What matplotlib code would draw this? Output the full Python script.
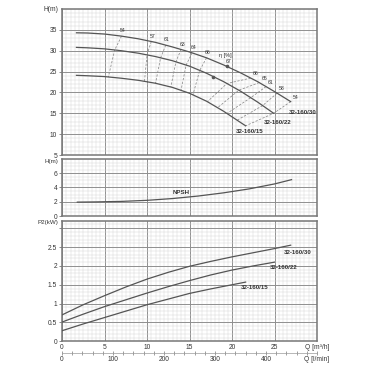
import numpy as np
import matplotlib.pyplot as plt
from matplotlib.ticker import MultipleLocator

plt.rcParams['font.family'] = ['Liberation Sans', 'DejaVu Sans']

# H-Q curves, Q in m3/h, H in m
q_30 = [1.7, 3, 5, 7, 9, 11, 13, 15, 17, 19, 21, 23, 25, 26.9]
h_30 = [34.3, 34.25, 34.0, 33.5, 32.85, 32.0, 30.9, 29.7, 28.3, 26.6, 24.7, 22.6, 20.2, 17.8]
q_22 = [1.7, 3, 5, 7, 9, 11, 13, 15, 17, 19, 21, 23, 24.9]
h_22 = [30.8, 30.7, 30.45, 30.0, 29.4, 28.6, 27.6, 26.3, 24.6, 22.6, 20.3, 17.7, 15.0]
q_15 = [1.7, 3, 5, 7, 9, 11, 13, 15, 17, 19, 21, 21.6]
h_15 = [24.1, 24.0, 23.8, 23.4, 22.9, 22.2, 21.2, 19.8, 17.9, 15.5, 12.8, 12.0]

# iso-efficiency lines: Q where each level meets the 30 / 22 / 15 curves
eta_levels = [54, 57, 61, 63, 64, 66, 66, 65, 61, 58, 54]
eta_q30 = [7.0, 10.5, 12.2, 14.0, 15.3, 17.0, 22.2, 23.2, 24.0, 25.3, 26.9]
eta_q22 = [6.2, 10.0, 11.6, 13.4, 14.6, 16.2, 19.4, 20.8, 22.2, 23.6, 24.9]
eta_q15 = [5.45, 9.7, 11.0, 12.8, 14.0, 15.4, 17.1, 18.3, 19.4, 20.6, 21.6]
eta_best_q = [19.4, 17.8]  # 67 % points on the 30 and 22 curves

# NPSH
q_npsh = [1.8, 4, 7, 10, 13, 16, 19, 22, 25, 27]
h_npsh = [1.95, 1.98, 2.05, 2.2, 2.45, 2.8, 3.25, 3.8, 4.5, 5.1]

# P2 curves, kW
q_p30 = [0, 2.5, 5, 7.5, 10, 12.5, 15, 17.5, 20, 22.5, 25, 26.9]
p_30 = [0.70, 0.97, 1.21, 1.44, 1.65, 1.83, 1.99, 2.12, 2.24, 2.35, 2.46, 2.55]
q_p22 = [0, 2.5, 5, 7.5, 10, 12.5, 15, 17.5, 20, 22.5, 25]
p_22 = [0.51, 0.72, 0.92, 1.10, 1.28, 1.45, 1.61, 1.76, 1.89, 2.00, 2.10]
q_p15 = [0, 2.5, 5, 7.5, 10, 12.5, 15, 17.5, 20, 21.6]
p_15 = [0.28, 0.46, 0.63, 0.80, 0.97, 1.12, 1.27, 1.39, 1.50, 1.57]

names = ['32-160/30', '32-160/22', '32-160/15']

curve_c = '#555555'
txt_c = '#333333'
fs = 4.8

fig = plt.figure(figsize=(3.68, 3.68), dpi=100)
ax1 = fig.add_axes([0.1685, 0.5788, 0.693, 0.3967])
ax2 = fig.add_axes([0.1685, 0.413, 0.693, 0.155])
ax3 = fig.add_axes([0.1685, 0.0726, 0.693, 0.3277])


def style(ax, ylim, yminor, yticks, ylabels):
    ax.set_xlim(0, 30)
    ax.set_ylim(*ylim)
    ax.xaxis.set_major_locator(MultipleLocator(5))
    ax.xaxis.set_minor_locator(MultipleLocator(0.5))
    ax.yaxis.set_minor_locator(MultipleLocator(yminor))
    ax.set_yticks(yticks, ylabels)
    ax.grid(which='major', color='#8f8f8f', lw=0.7)
    ax.grid(which='minor', color='#d6d6d6', lw=0.35)
    ax.set_axisbelow(True)
    for s in ax.spines.values():
        s.set_color('#777777')
        s.set_linewidth(1.1)
    ax.tick_params(axis='y', which='major', length=2, width=0.6, color='#777777',
                   labelsize=fs, labelcolor=txt_c, pad=1.5)
    ax.tick_params(which='minor', length=0)
    ax.tick_params(axis='x', which='major', length=0, labelbottom=False)


style(ax1, (5, 40), 1, [5, 10, 15, 20, 25, 30, 35], ['5', '10', '15', '20', '25', '30', '35'])
style(ax2, (0, 8), 0.5, [0, 2, 4, 6], ['0', '2', '4', '6'])
style(ax3, (0, 3.2), 0.1, [0, 0.5, 1, 1.5, 2, 2.5, 3], ['0', '0.5', '1', '1.5', '2', '2.5', ''])

# top panel: H-Q
for q, h in [(q_30, h_30), (q_22, h_22), (q_15, h_15)]:
    ax1.plot(q, h, color=curve_c, lw=0.9, zorder=3)

for lvl, a, b, c in zip(eta_levels, eta_q30, eta_q22, eta_q15):
    qs = [a, b, c]
    hs = [np.interp(a, q_30, h_30), np.interp(b, q_22, h_22), np.interp(c, q_15, h_15)]
    ax1.plot(qs, hs, color='#8a8a8a', lw=0.55, ls=(0, (3, 2)), zorder=2)
    right = a > 20
    ax1.annotate(str(lvl), (a, hs[0]), xytext=(1.5, 1.5) if right else (1, 2),
                 textcoords='offset points', ha='left' if right else 'center',
                 va='bottom', fontsize=3.7, color=txt_c)

hb = [np.interp(eta_best_q[0], q_30, h_30), np.interp(eta_best_q[1], q_22, h_22)]
ax1.plot(eta_best_q, hb, 'o', ms=1.6, color=curve_c, zorder=4)
ax1.annotate('67', (eta_best_q[0], hb[0]), xytext=(1, 2), textcoords='offset points',
             ha='center', va='bottom', fontsize=3.7, color=txt_c)
ax1.text(19.25, 28.8, 'η [%]', fontsize=4.0, color=txt_c, ha='center', va='center')

lab = dict(fontsize=4.4, fontweight='bold', color=txt_c, ha='center', va='center')
ax1.text(28.3, 15.15, names[0], **lab)
ax1.text(25.35, 12.75, names[1], **lab)
ax1.text(22.1, 10.75, names[2], **lab)
ax1.text(-0.015, 1.0, 'H(m)', transform=ax1.transAxes, fontsize=fs, color=txt_c, ha='right', va='center')

# middle panel: NPSH
ax2.plot(q_npsh, h_npsh, color=curve_c, lw=0.9, zorder=3)
ax2.text(14.06, 3.33, 'NPSH', **lab)
ax2.text(-0.015, 0.96, 'H(m)', transform=ax2.transAxes, fontsize=4.5, color=txt_c, ha='right', va='center')

# bottom panel: P2
for q, p in [(q_p30, p_30), (q_p22, p_22), (q_p15, p_15)]:
    ax3.plot(q, p, color=curve_c, lw=0.9, zorder=3)
ax3.text(27.7, 2.36, names[0], **lab)
ax3.text(26.06, 1.97, names[1], **lab)
ax3.text(22.65, 1.42, names[2], **lab)
ax3.text(-0.015, 0.985, 'P2(kW)', transform=ax3.transAxes, fontsize=4.5, color=txt_c, ha='right', va='center')

ax3.set_xticks([0, 5, 10, 15, 20, 25, 30], ['0', '5', '10', '15', '20', '25', 'Q [m³/h]'])
ax3.tick_params(axis='x', which='major', labelbottom=True, labelsize=fs, labelcolor=txt_c, pad=2)

sec = ax3.secondary_xaxis(-0.097, functions=(lambda q: q * 1000 / 60, lambda l: l * 60 / 1000))
sec.set_xticks([0, 100, 200, 300, 400, 500], ['0', '100', '200', '300', '400', 'Q [l/min]'])
sec.xaxis.set_minor_locator(MultipleLocator(20))
sec.tick_params(which='both', direction='inout', length=2.5, width=0.5, color='#777777')
sec.tick_params(which='major', labelsize=fs, labelcolor=txt_c, pad=1)
sec.spines['bottom'].set_color('#9a9a9a')
sec.spines['bottom'].set_linewidth(0.5)

fig.savefig('out.png', dpi=100, facecolor='white')
